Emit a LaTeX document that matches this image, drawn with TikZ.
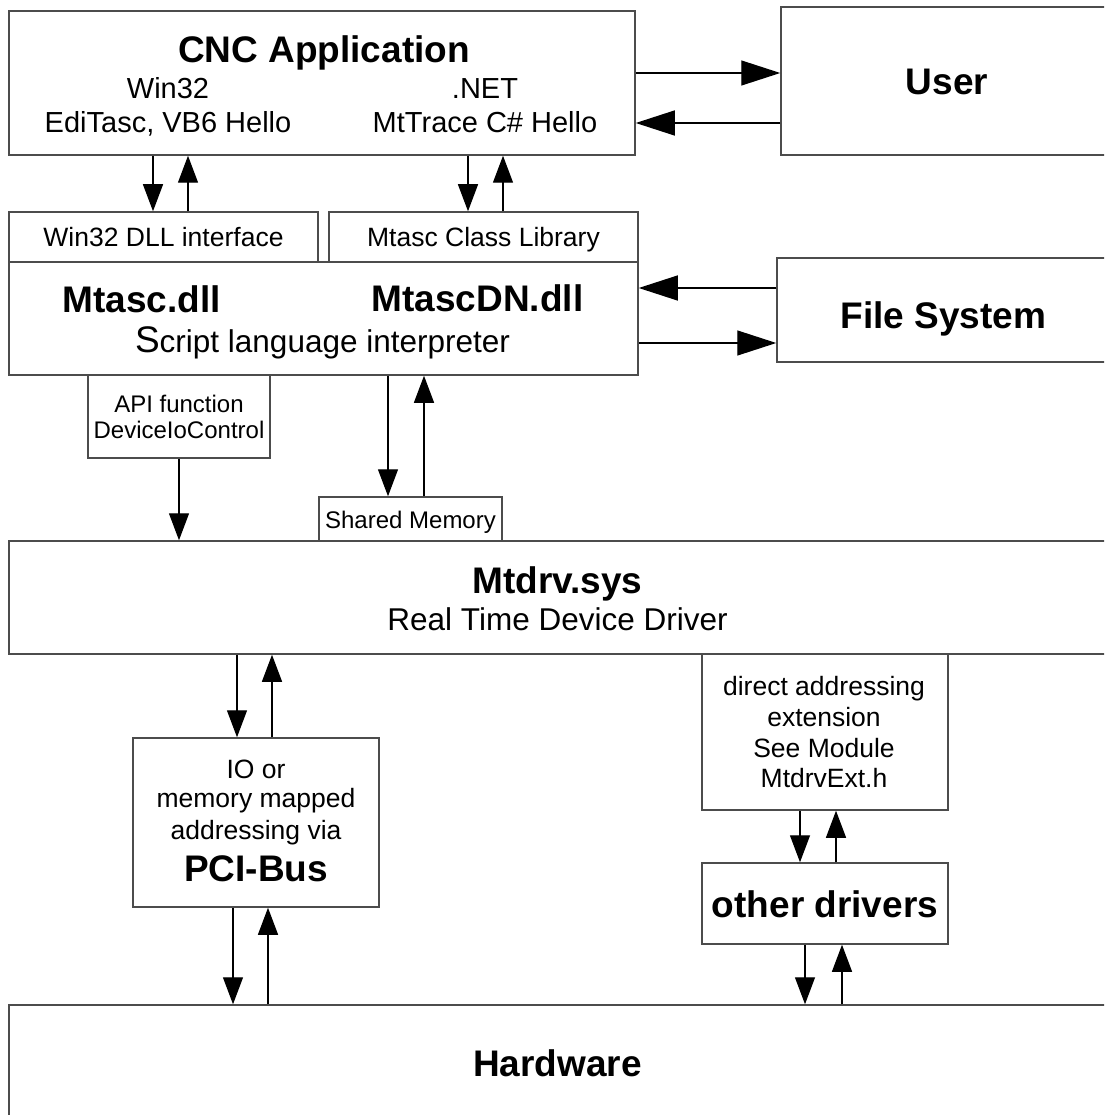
\documentclass[tikz,border=0pt]{standalone}
\usepackage{fontspec}
\setmainfont{Liberation Sans}
\usetikzlibrary{arrows.meta}

\newcommand\fnTitle{\fontsize{37}{42}\selectfont\bfseries}
\newcommand\fnBody{\fontsize{29}{34}\selectfont}
\newcommand\fnDrv{\fontsize{31.5}{36}\selectfont}
\newcommand\fnSmall{\fontsize{26.5}{30}\selectfont}
\newcommand\fnTiny{\fontsize{24}{26}\selectfont}

\tikzset{
  box/.style={draw=black!70, line width=1.5pt, inner sep=0pt},
  lbl/.style={anchor=base, inner sep=0pt},
  arr/.style={-{Triangle[length=27pt,width=20pt]}, line width=1.3pt},
  wide arr/.style={-{Triangle[length=39pt,width=25pt]}, line width=1.3pt},
}

\begin{document}
\begin{tikzpicture}[x=1pt,y=-1pt]
\useasboundingbox (0,0) rectangle (1104,1115);
\clip (0,0) rectangle (1104,1115);

% blocks
\node[box, minimum width=626pt, minimum height=144pt] (app) at (322,83) {};
\node[box, minimum width=329pt, minimum height=148pt] (user) at (945.5,81) {};
\node[box, minimum width=309pt, minimum height=50pt] (dllif) at (163.5,237) {};
\node[box, minimum width=309pt, minimum height=50pt] (classlib) at (483.5,237) {};
\node[box, minimum width=629pt, minimum height=113pt] (mtasc) at (323.5,318.5) {};
\node[box, minimum width=333pt, minimum height=104pt] (files) at (943.5,310) {};
\node[box, minimum width=182pt, minimum height=83pt] (api) at (179,416.5) {};
\node[box, minimum width=183pt, minimum height=44pt] (shmem) at (410.5,519) {};
\node[box, minimum width=1097pt, minimum height=113pt] (mtdrv) at (557.5,597.5) {};
\node[box, minimum width=246pt, minimum height=169pt] (pci) at (256,822.5) {};
\node[box, minimum width=246pt, minimum height=156pt] (direct) at (825,732) {};
\node[box, minimum width=246pt, minimum height=81pt] (others) at (825,903.5) {};
\node[box, minimum width=1097pt, minimum height=125pt] (hw) at (557.5,1067.5) {};

% texts
\node[lbl] (apptitle) at (324,63) {\fnTitle CNC Application};
\node[lbl] (winlbl) at (168,99) {\fnBody Win32};
\node[lbl] (winapps) at (168,133) {\fnBody EdiTasc, VB6 Hello};
\node[lbl] (netlbl) at (485,99) {\fnBody .NET};
\node[lbl] (netapps) at (485,133) {\fnBody MtTrace C\# Hello};
\node[lbl] (userlbl) at (947,95) {\fnTitle User};
\node[lbl] (dlliflbl) at (163.5,247) {\fnSmall Win32 DLL interface};
\node[lbl] (classliblbl) at (483.5,247) {\fnSmall Mtasc Class Library};
\node[lbl] (mtasclbl) at (141.5,312) {\fnTitle Mtasc.dll};
\node[lbl] (mtascdnlbl) at (477.5,311) {\fnTitle MtascDN.dll};
\node[lbl] (scriptlbl) at (322.5,352) {\fnDrv{\fontsize{37}{40}\selectfont S}cript language interpreter};
\node[lbl] (fileslbl) at (943.5,328) {\fnTitle File System};
\node[lbl] (apilbl) at (179,412) {\fnTiny API function};
\node[lbl] (ioctllbl) at (179,438) {\fnTiny DeviceIoControl};
\node[lbl] (shmemlbl) at (410.5,528) {\fnTiny Shared Memory};
\node[lbl] (mtdrvlbl) at (557.5,593) {\fnTitle Mtdrv.sys};
\node[lbl] (rtlbl) at (557.5,630) {\fnDrv Real Time Device Driver};
\node[lbl] (pcilbl1) at (256,778) {\fnSmall IO or};
\node[lbl] (pcilbl2) at (256,807) {\fnSmall memory mapped};
\node[lbl] (pcilbl3) at (256,839) {\fnSmall addressing via};
\node[lbl] (pcilbl4) at (256,881) {\fnTitle PCI-Bus};
\node[lbl] (directlbl1) at (824,695) {\fnSmall direct addressing};
\node[lbl] (directlbl2) at (824,726) {\fnSmall extension};
\node[lbl] (directlbl3) at (824,757) {\fnSmall See Module};
\node[lbl] (directlbl4) at (824,787) {\fnSmall MtdrvExt.h};
\node[lbl] (otherslbl) at (825,917) {\fnTitle other drivers};
\node[lbl] (hwlbl) at (557.5,1076) {\fnTitle Hardware};

% connectors
\draw[wide arr] (app.east |- 0,73) -- (user.west |- 0,73);
\draw[wide arr] (user.west |- 0,123) -- (app.east |- 0,123);
\draw[arr] (app.south -| 153,0) -- (dllif.north -| 153,0);
\draw[arr] (dllif.north -| 188,0) -- (app.south -| 188,0);
\draw[arr] (app.south -| 468,0) -- (classlib.north -| 468,0);
\draw[arr] (classlib.north -| 503,0) -- (app.south -| 503,0);
\draw[wide arr] (files.west |- 0,288) -- (mtasc.east |- 0,288);
\draw[wide arr] (mtasc.east |- 0,343) -- (files.west |- 0,343);
\draw[arr] (api.south) -- (mtdrv.north -| api.south);
\draw[arr] (mtasc.south -| 388,0) -- (shmem.north -| 388,0);
\draw[arr] (shmem.north -| 424,0) -- (mtasc.south -| 424,0);
\draw[arr] (mtdrv.south -| 237,0) -- (pci.north -| 237,0);
\draw[arr] (pci.north -| 272,0) -- (mtdrv.south -| 272,0);
\draw[arr] (pci.south -| 233,0) -- (hw.north -| 233,0);
\draw[arr] (hw.north -| 268,0) -- (pci.south -| 268,0);
\draw[arr] (direct.south -| 800,0) -- (others.north -| 800,0);
\draw[arr] (others.north -| 836,0) -- (direct.south -| 836,0);
\draw[arr] (others.south -| 805,0) -- (hw.north -| 805,0);
\draw[arr] (hw.north -| 842,0) -- (others.south -| 842,0);
\end{tikzpicture}
\end{document}
